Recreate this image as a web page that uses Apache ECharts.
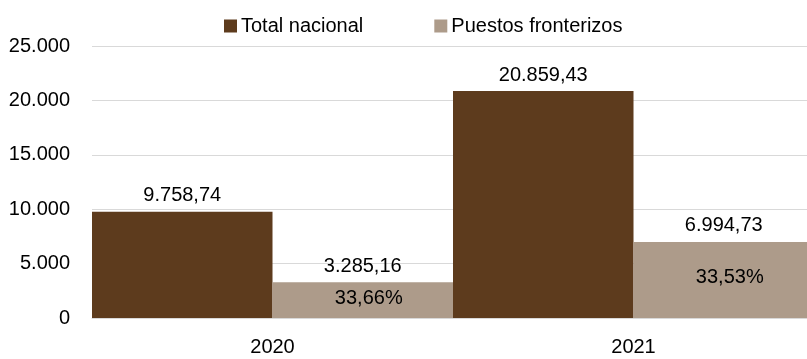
<!DOCTYPE html>
<html>
<head>
<meta charset="utf-8">
<script src="https://cdn.jsdelivr.net/npm/echarts@6/dist/echarts.min.js"></script>
<style>
  html, body { margin: 0; padding: 0; background: #fff; }
  #chart { width: 807px; height: 359px; }
</style>
</head>
<body>
<div id="chart"></div>
<script>
const years = ['2020', '2021'];
const totalNacional = [9758.74, 20859.43];
const puestosFronterizos = [3285.16, 6994.73];
const porcentajes = ['33,66%', '33,53%'];

const FONT = '"Liberation Sans", Arial, sans-serif';
const FS = 20;

// es-ES style number: 9.758,74
function fmt(v, dec) {
  const parts = v.toFixed(dec).split('.');
  parts[0] = parts[0].replace(/\B(?=(\d{3})+(?!\d))/g, '.');
  return parts.join(',');
}

const chart = echarts.init(document.getElementById('chart'));
chart.setOption({
  animation: false,
  textStyle: { fontFamily: FONT, color: '#000' },
  legend: {
    top: 11,
    left: 219,
    itemWidth: 13,
    itemHeight: 13,
    itemGap: 71,
    icon: 'rect',
    textStyle: { fontFamily: FONT, fontSize: FS, color: '#000', padding: [0, 0, 0, -1] },
    data: ['Total nacional', 'Puestos fronterizos']
  },
  grid: { left: 92, right: -7, top: 46, bottom: 41, outerBoundsMode: 'none', containLabel: false },
  xAxis: {
    type: 'category',
    data: years,
    axisLine: { show: true, lineStyle: { color: '#d9d9d9' } },
    axisTick: { show: false },
    axisLabel: { fontFamily: FONT, fontSize: FS, color: '#000', margin: 19 }
  },
  yAxis: {
    type: 'value',
    min: 0,
    max: 25000,
    interval: 5000,
    axisLine: { show: false },
    axisTick: { show: false },
    splitLine: { lineStyle: { color: '#d9d9d9', width: 1 } },
    axisLabel: {
      fontFamily: FONT, fontSize: FS, color: '#000', margin: 22,
      formatter: v => fmt(v, 0)
    }
  },
  series: [
    {
      name: 'Total nacional',
      type: 'bar',
      data: totalNacional,
      barGap: '0%',
      barCategoryGap: '0%',
      itemStyle: { color: '#5d3b1d' },
      label: {
        show: true, position: 'top', distance: 6,
        fontFamily: FONT, fontSize: FS, color: '#000',
        formatter: p => fmt(p.value, 2)
      }
    },
    {
      name: 'Puestos fronterizos',
      type: 'bar',
      data: puestosFronterizos,
      itemStyle: { color: '#ad9b8a' },
      label: {
        show: true, position: 'top', distance: 6,
        fontFamily: FONT, fontSize: FS, color: '#000',
        formatter: p => fmt(p.value, 2)
      },
      markPoint: {
        symbol: 'rect',
        symbolSize: 1,
        itemStyle: { color: 'rgba(0,0,0,0)' },
        label: {
          show: true, position: 'inside', offset: [6, -2],
          fontFamily: FONT, fontSize: FS, color: '#000',
          formatter: p => p.name
        },
        data: years.map((y, i) => ({ name: porcentajes[i], coord: [y, puestosFronterizos[i] / 2] }))
      }
    }
  ]
});
</script>
</body>
</html>
